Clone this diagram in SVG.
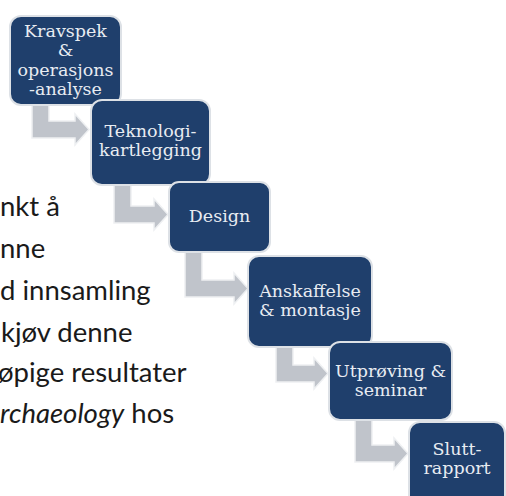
<svg xmlns="http://www.w3.org/2000/svg" width="506" height="496" viewBox="0 0 506 496">
<style>
.box{fill:#1f3f6c;stroke:#dde1e6;stroke-width:2}
.arr{fill:#c0c4cb;stroke:#eef0f2;stroke-width:1.5;stroke-linejoin:miter}
.bt{font-family:"DejaVu Serif",serif;font-size:17.5px;fill:#e8ecf2;text-anchor:middle}
.body{font-family:Lato,"Liberation Sans",sans-serif;font-size:27.5px;fill:#1a1a1a}
</style>
<rect width="506" height="496" fill="#ffffff"/>
<g id="bodytext" class="body">
<text x="0" y="216">nkt å</text>
<text x="0" y="258">nne</text>
<text x="0" y="300">d innsamling</text>
<text x="1" y="342">kjøv denne</text>
<text x="-2" y="382">øpige resultater</text>
<text x="0" y="423"><tspan font-style="italic">rchaeology</tspan> hos</text>
</g>
<g id="connectors">
<path class="arr" d="M32,104 H49 V121 H75 V114 L89,129.5 L75,145 V138 H32 Z"/>
<path class="arr" d="M114,185 H131 V206 H154 V199 L168,214.5 L154,230 V223 H114 Z"/>
<path class="arr" d="M185,251 H202 V280 H234 V273 L248,288.5 L234,304 V297 H185 Z"/>
<path class="arr" d="M276,346 H293 V365 H314 V358 L328,373.5 L314,389 V382 H276 Z"/>
<path class="arr" d="M355,419 H372 V445 H394 V438 L408,453.5 L394,469 V462 H355 Z"/>
</g>
<g id="n1">
<rect class="box" x="10" y="16" width="111" height="89" rx="11"/>
<text class="bt" x="65.5" y="37">Kravspek</text>
<text class="bt" x="65.5" y="56">&amp;</text>
<text class="bt" x="65.5" y="76">operasjons</text>
<text class="bt" x="65.5" y="95">-analyse</text>
</g>
<g id="n2">
<rect class="box" x="91" y="100" width="119" height="85" rx="11"/>
<text class="bt" x="150.5" y="137">Teknologi-</text>
<text class="bt" x="150.5" y="156">kartlegging</text>
</g>
<g id="n3">
<rect class="box" x="169" y="182" width="101" height="70" rx="10"/>
<text class="bt" x="219.5" y="222">Design</text>
</g>
<g id="n4">
<rect class="box" x="248" y="256" width="124" height="91" rx="11"/>
<text class="bt" x="310" y="297">Anskaffelse</text>
<text class="bt" x="310" y="316">&amp; montasje</text>
</g>
<g id="n5">
<rect class="box" x="329" y="342" width="123" height="78" rx="11"/>
<text class="bt" x="390.5" y="377">Utprøving &amp;</text>
<text class="bt" x="390.5" y="396">seminar</text>
</g>
<g id="n6">
<rect class="box" x="409" y="422" width="96" height="84" rx="11"/>
<text class="bt" x="457" y="455">Slutt-</text>
<text class="bt" x="457" y="474">rapport</text>
</g>
</svg>
